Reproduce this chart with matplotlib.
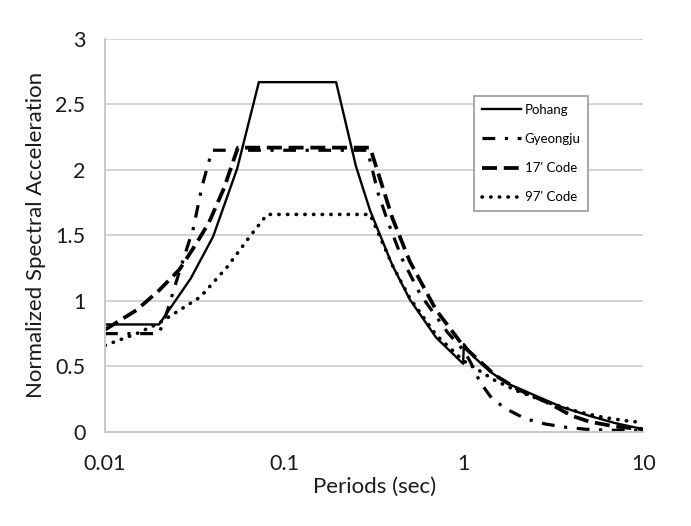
import matplotlib.pyplot as plt

# Periods (sec) and normalized spectral acceleration
pohang_T = [0.01, 0.02, 0.03, 0.04, 0.0545, 0.072, 0.194, 0.25, 0.3, 0.4, 0.5, 0.7,
            0.99, 1.0, 1.13, 1.4, 1.74, 2.2, 2.67, 3.5, 5.07, 7.0, 10.0]
pohang_Sa = [0.82, 0.82, 1.17, 1.49, 2.01, 2.67, 2.67, 2.03, 1.69, 1.27, 1.01, 0.72,
             0.52, 0.67, 0.575, 0.46, 0.37, 0.31, 0.26, 0.19, 0.12, 0.066, 0.02]

gyeongju_T = [0.01, 0.02, 0.0222, 0.0262, 0.031, 0.0348, 0.0395, 0.29, 0.313, 0.333,
              0.378, 0.453, 0.571, 0.81, 1.0, 1.09, 1.23, 1.44, 1.75, 2.2, 2.84, 3.7,
              4.75, 6.2, 8.0, 10.0]
gyeongju_Sa = [0.75, 0.75, 0.92, 1.24, 1.55, 1.88, 2.15, 2.15, 1.97, 1.82,
               1.6, 1.32, 1.05, 0.76, 0.62, 0.53, 0.38, 0.25, 0.17, 0.10, 0.06, 0.035,
               0.02, 0.013, 0.01, 0.01]

code17_T = [0.01, 0.015, 0.02, 0.026, 0.032, 0.038, 0.046, 0.055, 0.3, 0.4, 0.5, 0.7,
            1.0, 1.5, 2.0, 3.0, 4.0, 5.0, 7.0, 10.0]
code17_Sa = [0.78, 0.93, 1.08, 1.24, 1.43, 1.6, 1.86, 2.17, 2.17, 1.63, 1.3, 0.93,
             0.65, 0.43, 0.325, 0.217, 0.122, 0.078, 0.04, 0.02]

code97_T = [0.01, 0.015, 0.02, 0.034, 0.048, 0.064, 0.08, 0.3, 0.4, 0.5, 0.7, 1.0,
            1.5, 2.0, 3.0, 4.29, 6.0, 8.0, 10.0]
code97_Sa = [0.66, 0.75, 0.83, 1.03, 1.26, 1.49, 1.66, 1.66, 1.27, 1.02, 0.74, 0.54,
             0.39, 0.31, 0.22, 0.155, 0.11, 0.085, 0.07]

x_ticks = [0.01, 0.1, 1, 10]
x_labels = ['0.01', '0.1', '1', '10']
y_ticks = [0, 0.5, 1, 1.5, 2, 2.5, 3]
y_labels = ['0', '0.5', '1', '1.5', '2', '2.5', '3']

plt.rcParams['font.family'] = ['Lato', 'DejaVu Sans']

fig = plt.figure(figsize=(6.91, 5.26), dpi=100)
ax = fig.add_axes([0.152, 0.179, 0.779, 0.747])

ax.plot(pohang_T, pohang_Sa, color='black', lw=1.7, ls='-', label='Pohang')
ax.plot(gyeongju_T, gyeongju_Sa, color='black', lw=2.3, ls=(0, (4, 3, 1, 3)),
        label='Gyeongju')
ax.plot(code17_T, code17_Sa, color='black', lw=2.7, ls=(0, (4, 1.8)),
        label="17' Code")
ax.plot(code97_T, code97_Sa, color='black', lw=2.6, ls=(0, (0.1, 2.3)),
        dash_capstyle='round', label="97' Code")

ax.set_xscale('log')
ax.set_xlim(0.01, 10)
ax.set_ylim(0, 3)
ax.set_xticks(x_ticks)
ax.set_xticklabels(x_labels)
ax.set_yticks(y_ticks)
ax.set_yticklabels(y_labels)
ax.minorticks_off()
ax.tick_params(length=0, labelsize=15.5, colors='#1a1a1a')
ax.tick_params(axis='x', pad=16)
ax.tick_params(axis='y', pad=14)

ax.grid(axis='y', color='#cccccc', lw=1.2)
ax.set_axisbelow(True)
for s in ['top', 'right']:
    ax.spines[s].set_visible(False)
for s in ['left', 'bottom']:
    ax.spines[s].set_color('#c8c8c8')
    ax.spines[s].set_linewidth(1.4)

ax.set_xlabel('Periods (sec)', fontsize=16, color='#1a1a1a', labelpad=2)
ax.set_ylabel('Normalized Spectral Acceleration', fontsize=16, color='#1a1a1a',
              labelpad=7)

leg = ax.legend(loc='upper left', bbox_to_anchor=(0.685, 0.855), fontsize=9.5,
                handlelength=3.0, labelspacing=1.3, borderpad=0.6,
                fancybox=False, framealpha=1, handletextpad=0.25,
                borderaxespad=0)
leg.get_frame().set_edgecolor('#999999')
leg.get_frame().set_linewidth(1.2)

fig.savefig('out.png', dpi=100)
